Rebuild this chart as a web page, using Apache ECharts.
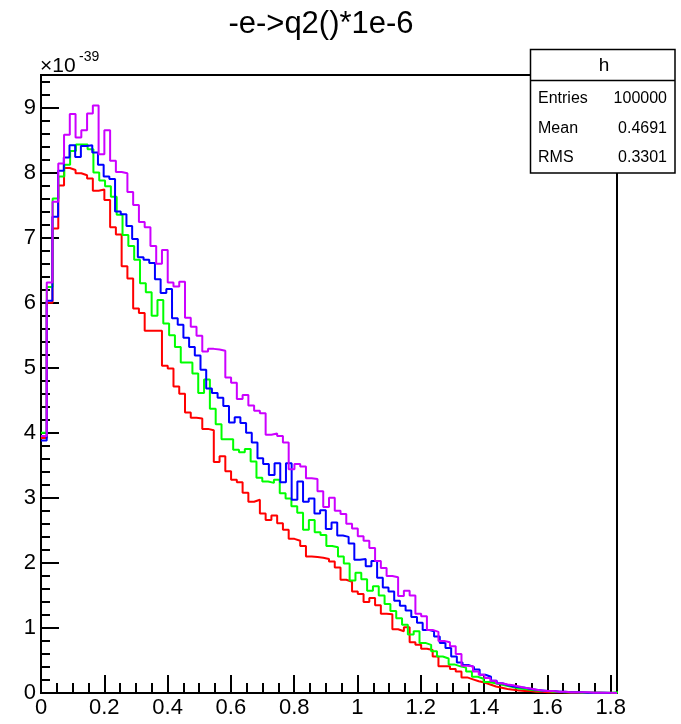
<!DOCTYPE html>
<html>
<head>
<meta charset="utf-8">
<script src="https://cdn.jsdelivr.net/npm/echarts@6/dist/echarts.min.js"></script>
<style>
html,body{margin:0;padding:0;background:#fff;}
#chart{width:681px;height:724px;}
</style>
</head>
<body>
<div id="chart"></div>
<script>
// ---- data (values in units of 1e-39) ----
const titleText = "-e->q2()*1e-6";
const xTickLabels = ["0","0.2","0.4","0.6","0.8","1","1.2","1.4","1.6","1.8"];
const yTickLabels = ["0","1","2","3","4","5","6","7","8","9"];
const statsName = "h";
const statsLabels = ["Entries","Mean","RMS"];
const statsValues = ["100000","0.4691","0.3301"];

const binWidthRed = 0.0182;
const binWidthPurple = 0.0182;
const binWidthBlue = 0.0180;
const binWidthGreen = 0.0184;

const redValues = [
 3.92,6.00,7.14,7.80,8.07,8.04,7.99,7.96,7.91,7.72,
 7.74,7.58,7.16,7.05,6.56,6.37,5.91,5.84,5.57,5.57,
 5.57,5.03,4.99,4.71,4.60,4.31,4.23,4.22,4.06,4.04,
 3.55,3.64,3.41,3.28,3.24,3.08,2.94,2.97,2.76,2.66,
 2.73,2.61,2.51,2.37,2.34,2.26,2.10,2.09,2.08,2.06,
 2.02,1.93,1.74,1.71,1.56,1.52,1.40,1.46,1.35,1.22,
 1.21,0.98,0.95,1.01,0.78,0.74,0.68,0.66,0.56,0.41,
 0.41,0.37,0.33,0.24,0.21,0.18,0.16,0.13,0.10,0.08,
 0.06,0.05,0.04,0.03,0.03,0.02,0.02,0.01,0.01,0.01,
 0.01,0.005,0.005,0.003,0.003,0.002,0.002,0.001,0.001,0.001
];
const greenValues = [
 4.00,6.24,7.60,7.94,8.12,8.33,8.43,8.43,8.36,8.00,
 7.88,7.79,7.63,7.35,7.04,6.87,6.66,6.30,6.16,5.80,
 6.04,5.68,5.50,5.32,5.08,5.08,4.91,4.61,4.82,4.37,
 4.13,3.90,3.90,3.74,3.70,3.75,3.56,3.31,3.25,3.23,
 3.28,3.07,2.99,2.87,2.77,2.51,2.66,2.47,2.43,2.26,
 2.24,2.10,1.99,1.73,1.85,1.75,1.57,1.64,1.50,1.37,
 1.26,1.15,1.05,0.90,0.95,0.77,0.74,0.64,0.56,0.53,
 0.44,0.41,0.39,0.33,0.25,0.22,0.17,0.15,0.13,0.11,
 0.09,0.07,0.06,0.05,0.04,0.03,0.03,0.02,0.02,0.01,
 0.01,0.01,0.005,0.005,0.003,0.003,0.002,0.002,0.01,0.001
];
const blueValues = [
 3.88,6.03,7.32,8.03,8.23,8.42,8.24,8.41,8.42,8.31,
 8.12,7.94,7.90,7.40,7.36,7.18,6.98,6.70,6.66,6.61,
 6.36,6.15,6.21,5.76,5.66,5.46,5.32,5.19,4.97,4.68,
 4.61,4.54,4.41,4.16,4.24,4.15,4.00,3.85,3.61,3.52,
 3.35,3.53,3.24,3.53,2.97,3.25,2.94,2.99,2.76,2.81,
 2.52,2.62,2.42,2.40,2.30,2.05,2.06,1.95,2.03,1.77,
 1.62,1.56,1.42,1.34,1.27,1.17,1.08,0.97,0.95,0.87,
 0.77,0.69,0.56,0.47,0.43,0.40,0.36,0.28,0.25,0.19,
 0.15,0.12,0.10,0.09,0.08,0.06,0.05,0.04,0.03,0.03,
 0.02,0.02,0.01,0.01,0.01,0.005,0.005,0.003,0.002,0.001
];
const purpleValues = [
 3.95,6.31,7.55,8.14,8.58,8.90,8.54,8.65,8.91,9.03,
 8.28,8.65,8.18,8.01,7.99,7.70,7.50,7.24,7.16,6.87,
 6.60,6.81,6.31,6.25,6.32,5.77,5.63,5.49,5.25,5.29,
 5.28,5.26,4.85,4.77,4.52,4.58,4.42,4.34,4.30,3.97,
 3.99,3.95,3.85,3.44,3.52,3.48,3.30,3.29,3.10,2.86,
 3.00,2.80,2.75,2.60,2.53,2.41,2.34,2.23,2.03,1.92,
 1.80,1.78,1.49,1.57,1.50,1.22,1.18,0.97,0.94,0.80,
 0.78,0.72,0.60,0.42,0.41,0.33,0.28,0.23,0.19,0.15,
 0.13,0.12,0.10,0.08,0.07,0.05,0.04,0.03,0.03,0.02,
 0.02,0.01,0.01,0.01,0.01,0.005,0.005,0.003,0.002,0.001
];

// ---- build histogram outlines (bin edges from index * width) ----
function stepData(vals, w) {
  const pts = [];
  vals.forEach(function (v, i) {
    pts.push([i * w, v]);
    pts.push([(i + 1) * w, v]);
  });
  pts.push([vals.length * w, 0]);
  return pts;
}

const FONT = "'Liberation Sans', Arial, Helvetica, sans-serif";
const chart = echarts.init(document.getElementById('chart'), null, {renderer: 'canvas'});

function histSeries(name, vals, w, color) {
  return {
    name: name, type: 'line', data: stepData(vals, w),
    xAxisIndex: 0, yAxisIndex: 0,
    showSymbol: false, symbol: 'none', clip: true, smooth: false,
    lineStyle: {color: color, width: 2}, itemStyle: {color: color},
    emphasis: {disabled: true}, animation: false
  };
}

const axisBlack = {color: '#000', width: 2};

chart.setOption({
  animation: false,
  backgroundColor: '#fff',
  grid: {left: 41, right: 64, top: 75, bottom: 31, show: true, borderColor: '#000', borderWidth: 2, backgroundColor: 'transparent'},
  xAxis: [
    {
      type: 'value', min: 0, max: 1.82, interval: 0.2, position: 'bottom',
      axisLine: {show: true, lineStyle: axisBlack},
      axisTick: {show: true, inside: true, length: 18, lineStyle: axisBlack},
      axisLabel: {show: true, color: '#000', fontSize: 22, fontFamily: FONT, margin: 4, showMaxLabel: false,
        formatter: function (v) { const i = Math.round(v / 0.2); return Math.abs(v - i * 0.2) < 1e-6 ? xTickLabels[i] : ''; }},
      splitLine: {show: false}
    },
    {
      type: 'value', min: 0, max: 1.82, interval: 0.05, position: 'bottom', offset: 0,
      axisLine: {show: false},
      axisTick: {show: true, inside: true, length: 10, lineStyle: axisBlack},
      axisLabel: {show: false}, splitLine: {show: false}
    }
  ],
  yAxis: [
    {
      type: 'value', min: 0, max: 9.5, interval: 1, position: 'left',
      axisLine: {show: true, lineStyle: axisBlack},
      axisTick: {show: true, inside: true, length: 18, lineStyle: axisBlack},
      axisLabel: {show: true, color: '#000', fontSize: 22, fontFamily: FONT, margin: 5, showMaxLabel: false,
        formatter: function (v) { const i = Math.round(v); return Math.abs(v - i) < 1e-6 ? yTickLabels[i] : ''; }},
      splitLine: {show: false}
    },
    {
      type: 'value', min: 0, max: 9.5, interval: 0.2, position: 'left', offset: 0,
      axisLine: {show: false},
      axisTick: {show: true, inside: true, length: 9, lineStyle: axisBlack},
      axisLabel: {show: false}, splitLine: {show: false}
    }
  ],
  series: [
    histSeries('red', redValues, binWidthRed, '#ff0000'),
    histSeries('green', greenValues, binWidthGreen, '#00ff00'),
    histSeries('blue', blueValues, binWidthBlue, '#0000ff'),
    histSeries('purple', purpleValues, binWidthPurple, '#cc00ff')
  ],
  graphic: [
    {type: 'text', z: 100, x: 321, y: 24, style: {text: titleText, font: '31px ' + FONT, fill: '#000', textAlign: 'center', textVerticalAlign: 'middle'}},
    {type: 'text', z: 100, x: 40, y: 66, style: {text: '\u00d710', font: '21px ' + FONT, fill: '#000', textAlign: 'left', textVerticalAlign: 'middle'}},
    {type: 'text', z: 100, x: 79, y: 57, style: {text: '-39', font: '14px ' + FONT, fill: '#000', textAlign: 'left', textVerticalAlign: 'middle'}},
    {type: 'rect', z: 100, shape: {x: 530.5, y: 49.5, width: 144.5, height: 123.5}, style: {fill: '#fff', stroke: '#000', lineWidth: 1.5}},
    {type: 'line', z: 101, shape: {x1: 530.5, y1: 80.5, x2: 675, y2: 80.5}, style: {stroke: '#000', lineWidth: 1.5}},
    {type: 'text', z: 102, x: 604, y: 66, style: {text: statsName, font: '19px ' + FONT, fill: '#000', textAlign: 'center', textVerticalAlign: 'middle'}},
    {type: 'text', z: 102, x: 538, y: 98.5, style: {text: statsLabels[0], font: '16px ' + FONT, fill: '#000', textAlign: 'left', textVerticalAlign: 'middle'}},
    {type: 'text', z: 102, x: 538, y: 129, style: {text: statsLabels[1], font: '16px ' + FONT, fill: '#000', textAlign: 'left', textVerticalAlign: 'middle'}},
    {type: 'text', z: 102, x: 538, y: 158, style: {text: statsLabels[2], font: '16px ' + FONT, fill: '#000', textAlign: 'left', textVerticalAlign: 'middle'}},
    {type: 'text', z: 102, x: 667, y: 98.5, style: {text: statsValues[0], font: '16px ' + FONT, fill: '#000', textAlign: 'right', textVerticalAlign: 'middle'}},
    {type: 'text', z: 102, x: 667, y: 129, style: {text: statsValues[1], font: '16px ' + FONT, fill: '#000', textAlign: 'right', textVerticalAlign: 'middle'}},
    {type: 'text', z: 102, x: 667, y: 158, style: {text: statsValues[2], font: '16px ' + FONT, fill: '#000', textAlign: 'right', textVerticalAlign: 'middle'}}
  ]
});
</script>
</body>
</html>
